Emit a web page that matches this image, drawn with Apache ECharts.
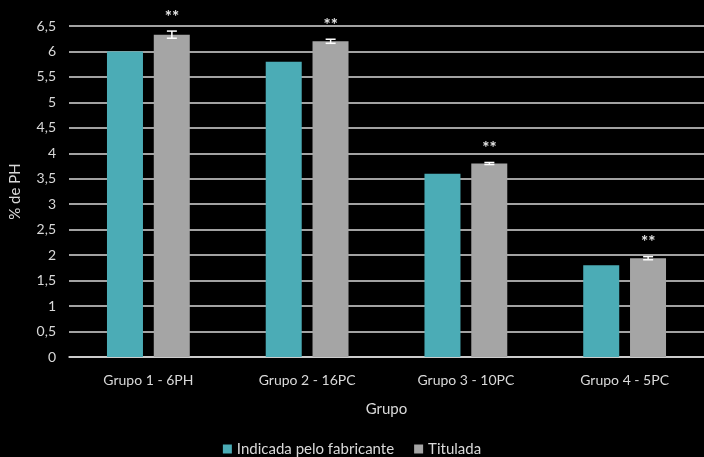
<!DOCTYPE html>
<html><head><meta charset="utf-8">
<script src="https://cdn.jsdelivr.net/npm/echarts@6/dist/echarts.min.js"></script>
<style>html,body{margin:0;padding:0;background:#000}#c{width:704px;height:457px}</style>
</head><body><div id="c"></div>
<script>
const categories = ['Grupo 1 - 6PH', 'Grupo 2 - 16PC', 'Grupo 3 - 10PC', 'Grupo 4 - 5PC'];
const indicada = [6.0, 5.8, 3.6, 1.8];
const titulada = [6.33, 6.2, 3.8, 1.94];
const tituladaErr = [0.07, 0.04, 0.02, 0.03];
const marks = ['**', '**', '**', '**'];
const seriesNames = ['Indicada pelo fabricante', 'Titulada'];

const FONT = 'Lato, "Open Sans", sans-serif';
const chart = echarts.init(document.getElementById('c'));
const errData = titulada.map((v, i) => [i, v, tituladaErr[i], marks[i]]);
chart.setOption({
  backgroundColor: '#000',
  animation: false,
  textStyle: { fontFamily: FONT },
  grid: { left: 67, right: 0, top: 26, bottom: 100 },
  legend: {
    data: seriesNames, top: 441, left: 'center', padding: 0, itemWidth: 9, itemHeight: 9, itemGap: 20,
    icon: 'rect', textStyle: { color: '#d9d9d9', fontSize: 15, fontFamily: FONT, lineHeight: 16 }
  },
  xAxis: {
    type: 'category', data: categories,
    name: 'Grupo', nameLocation: 'middle', nameGap: 45,
    nameTextStyle: { color: '#d9d9d9', fontSize: 15, fontFamily: FONT },
    axisLine: { lineStyle: { color: '#d9d9d9', width: 1.5 } },
    axisTick: { show: false },
    axisLabel: { color: '#d9d9d9', fontSize: 14, margin: 16, fontFamily: FONT }
  },
  yAxis: {
    type: 'value', min: 0, max: 6.5, interval: 0.5,
    name: '% de PH', nameLocation: 'middle', nameGap: 46, nameRotate: 90,
    nameTextStyle: { color: '#d9d9d9', fontSize: 15, fontFamily: FONT },
    axisLine: { show: false }, axisTick: { show: false },
    axisLabel: { color: '#d9d9d9', fontSize: 14, margin: 13, fontFamily: FONT,
      formatter: v => String(v).replace('.', ',') },
    splitLine: { lineStyle: { color: '#d9d9d9', width: 1.5 } }
  },
  series: [
    { name: seriesNames[0], type: 'bar', data: indicada, barWidth: 36, barGap: '30%',
      itemStyle: { color: '#4bacb6' } },
    { name: seriesNames[1], type: 'bar', data: titulada, barWidth: 36,
      itemStyle: { color: '#a5a5a5' } },
    { type: 'custom', data: errData, z: 10, silent: true,
      renderItem: function (params, api) {
        const i = api.value(0), v = api.value(1), e = api.value(2);
        const off = 23.5;
        const top = api.coord([i, v + e]);
        const bot = api.coord([i, v - e]);
        const x = top[0] + off;
        return { type: 'group', children: [
          { type: 'line', shape: { x1: x, y1: top[1], x2: x, y2: bot[1] }, style: { stroke: '#fff', lineWidth: 1.5 } },
          { type: 'line', shape: { x1: x - 5, y1: top[1], x2: x + 5, y2: top[1] }, style: { stroke: '#fff', lineWidth: 1.5 } },
          { type: 'line', shape: { x1: x - 5, y1: bot[1], x2: x + 5, y2: bot[1] }, style: { stroke: '#fff', lineWidth: 1.5 } },
          { type: 'text', x: x, y: top[1] - 14, style: { text: api.value(3), fill: '#e6e6e6', font: 'bold 17px ' + FONT, align: 'center', verticalAlign: 'middle' } }
        ] };
      }
    }
  ]
});
</script></body></html>
